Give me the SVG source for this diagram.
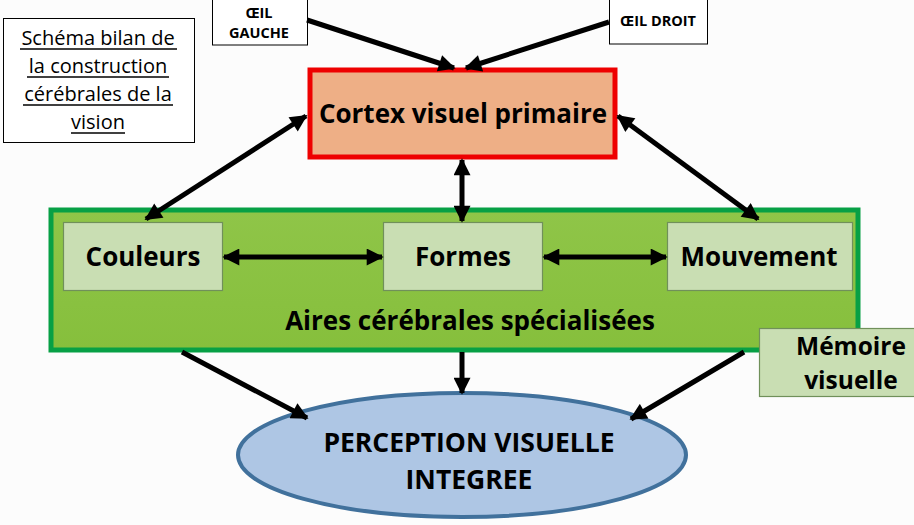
<svg xmlns="http://www.w3.org/2000/svg" width="914" height="525" viewBox="0 0 914 525">
<style>
.t{font-family:"Open Sans","Noto Sans",sans-serif;fill:#000;text-anchor:middle}
.b{font-weight:bold}
.c{stroke:#000;stroke-width:5;fill:none}
.sub{fill:#c9deb3;stroke:#70905a;stroke-width:1.2}
</style>
<defs>
<marker id="ah" viewBox="0 0 10 10" refX="9" refY="5" markerWidth="18" markerHeight="17" markerUnits="userSpaceOnUse" orient="auto-start-reverse">
<path d="M0,0 L10,5 L0,10 z" fill="#000"/>
</marker>
<linearGradient id="gr" x1="0" y1="0" x2="0" y2="1">
<stop offset="0" stop-color="#8fc548"/>
<stop offset="1" stop-color="#86bf3c"/>
</linearGradient>
<linearGradient id="sg" x1="0" y1="0" x2="1" y2="1">
<stop offset="0" stop-color="#c2d9aa"/>
<stop offset="1" stop-color="#d3e5c1"/>
</linearGradient>
</defs>
<rect width="914" height="525" fill="#fcfcfc"/>

<g id="schema">
<rect x="3.5" y="18.5" width="191" height="124" fill="#fff" stroke="#000" stroke-width="1"/>
<text class="t" font-size="20" x="98" y="45">Schéma bilan de</text>
<text class="t" font-size="20" x="98" y="73">la construction</text>
<text class="t" font-size="20" x="98" y="101">cérébrales de la</text>
<text class="t" font-size="20" x="98" y="129">vision</text>
<g stroke="#000" stroke-width="1.3">
<line x1="20" y1="49" x2="177" y2="49"/>
<line x1="27" y1="77" x2="169" y2="77"/>
<line x1="23" y1="105" x2="173" y2="105"/>
<line x1="71" y1="133" x2="125" y2="133"/>
</g>
</g>

<g id="oeil-gauche">
<rect x="212.5" y="-1" width="95" height="46" fill="#fff" stroke="#000" stroke-width="1"/>
<text class="t b" font-size="14.5" x="259" y="18">ŒIL</text>
<text class="t b" font-size="14.5" x="259" y="38">GAUCHE</text>
</g>

<g id="oeil-droit">
<rect x="609.5" y="-1" width="98" height="45" fill="#fff" stroke="#000" stroke-width="1"/>
<text class="t b" font-size="14.5" x="658" y="26">ŒIL DROIT</text>
</g>

<g id="cortex">
<rect x="310" y="70" width="305" height="87" fill="#eeaf86" stroke="#ee0000" stroke-width="5"/>
<text class="t b" font-size="26" x="463" y="123">Cortex visuel primaire</text>
</g>

<g id="aires">
<rect x="51" y="210" width="807" height="140" fill="url(#gr)" stroke="#07a045" stroke-width="5"/>
<text class="t b" font-size="26" x="470" y="330">Aires cérébrales spécialisées</text>
</g>

<g id="couleurs">
<rect class="sub" x="63.5" y="222.5" width="159" height="68" fill="url(#sg)"/>
<text class="t b" font-size="26" x="143" y="266">Couleurs</text>
</g>

<g id="formes">
<rect class="sub" x="383.5" y="222.5" width="159" height="68" fill="url(#sg)"/>
<text class="t b" font-size="26" x="463" y="266">Formes</text>
</g>

<g id="mouvement">
<rect class="sub" x="667.5" y="222.5" width="185" height="68" fill="url(#sg)"/>
<text class="t b" font-size="26" x="759" y="266">Mouvement</text>
</g>

<g id="memoire">
<rect class="sub" x="759.5" y="328.5" width="160" height="68" fill="url(#sg)"/>
<text class="t b" font-size="24.5" x="851" y="355">Mémoire</text>
<text class="t b" font-size="24.5" x="851" y="389">visuelle</text>
</g>

<g id="perception">
<ellipse cx="462" cy="455" rx="224" ry="62" fill="#aec6e4" stroke="#41719c" stroke-width="4"/>
<text class="t b" font-size="26.5" x="469" y="452">PERCEPTION VISUELLE</text>
<text class="t b" font-size="26.5" x="469" y="489">INTEGREE</text>
</g>

<g id="connectors">
<line class="c" x1="307" y1="20" x2="454" y2="68" marker-end="url(#ah)"/>
<line class="c" x1="609" y1="22" x2="466" y2="68" marker-end="url(#ah)"/>
<line class="c" x1="306" y1="116" x2="146" y2="219" marker-start="url(#ah)" marker-end="url(#ah)"/>
<line class="c" x1="462" y1="160" x2="462" y2="221" marker-start="url(#ah)" marker-end="url(#ah)"/>
<line class="c" x1="618" y1="116" x2="758" y2="219" marker-start="url(#ah)" marker-end="url(#ah)"/>
<line class="c" x1="224" y1="257" x2="382" y2="257" marker-start="url(#ah)" marker-end="url(#ah)"/>
<line class="c" x1="544" y1="257" x2="666" y2="257" marker-start="url(#ah)" marker-end="url(#ah)"/>
<line class="c" x1="182" y1="352" x2="307" y2="418" marker-end="url(#ah)"/>
<line class="c" x1="462" y1="352" x2="462" y2="393" marker-end="url(#ah)"/>
<line class="c" x1="744" y1="352" x2="631" y2="419" marker-end="url(#ah)"/>
</g>
</svg>
